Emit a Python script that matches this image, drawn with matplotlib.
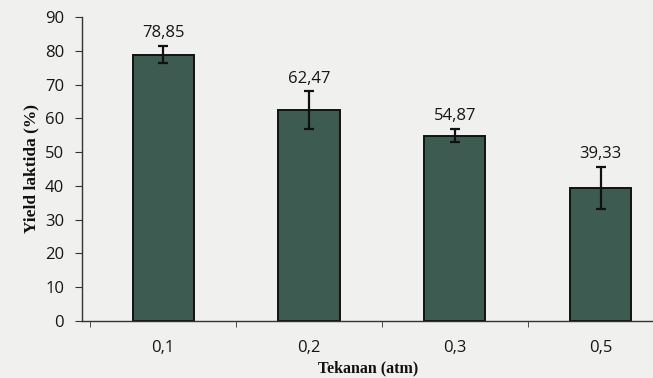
import matplotlib
matplotlib.use("Agg")
import matplotlib.pyplot as plt
import numpy as np

# Data
pressures = ["0,1", "0,2", "0,3", "0,5"]
yield_pct = [78.85, 62.47, 54.87, 39.33]
yield_err = [2.5, 5.5, 2.0, 6.2]
value_labels = ["78,85", "62,47", "54,87", "39,33"]
y_ticks = [0, 10, 20, 30, 40, 50, 60, 70, 80, 90]

bg = "#f0f0ee"
bar_color = "#3e5b51"
ink = "#161616"

fig = plt.figure(figsize=(6.53, 3.78), dpi=100, facecolor=bg)
ax = fig.add_axes([0.126, 0.151, 0.874, 0.804], facecolor=bg)

x = np.arange(len(pressures))
ax.bar(x, yield_pct, width=0.42, color=bar_color, edgecolor="#111111", linewidth=1.4,
       yerr=yield_err, error_kw=dict(ecolor="#111111", elinewidth=1.6, capsize=3.5, capthick=1.6),
       zorder=2)

for xi, v, e, lab in zip(x, yield_pct, yield_err, value_labels):
    ax.annotate(lab, (xi, v + e), xytext=(0, 3.5), textcoords="offset points",
                ha="center", va="bottom", fontsize=12, family="Open Sans", color=ink)

ax.set_ylim(0, 90)
ax.set_xlim(-0.555, 3.36)
ax.set_yticks(y_ticks)
ax.set_yticklabels([str(t) for t in y_ticks], family="Open Sans", fontsize=12, color=ink)

# category labels centred under bars, tick marks between categories
ax.set_xticks(x)
ax.set_xticklabels(pressures, family="Open Sans", fontsize=12, color=ink)
ax.tick_params(axis="x", length=0, pad=14)
ax.set_xticks(np.arange(-0.5, 3.4, 1.0), minor=True)
ax.tick_params(axis="x", which="minor", length=4, direction="out", color="#333333")
ax.tick_params(axis="y", length=5, direction="out", color="#333333", pad=8)

for s in ["top", "right"]:
    ax.spines[s].set_visible(False)
for s in ["left", "bottom"]:
    ax.spines[s].set_color("#333333")
    ax.spines[s].set_linewidth(1.0)

ax.set_ylabel("Yield laktida (%)", family="Liberation Serif", fontweight="bold",
              fontsize=12.5, color="#111111", labelpad=4)
ax.set_xlabel("Tekanan (atm)", family="Liberation Serif", fontweight="bold",
              fontsize=11.5, color="#111111", labelpad=3)

fig.savefig("out.png", dpi=100, facecolor=bg)
